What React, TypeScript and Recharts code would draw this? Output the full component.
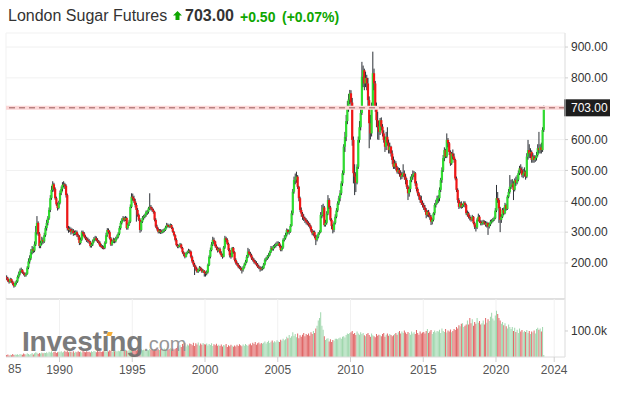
import { ComposedChart, Bar, XAxis, YAxis, CartesianGrid, ReferenceLine, Cell } from "recharts"

const FONT = "'Liberation Sans', Arial, sans-serif"
const UP = "#2fdc2f"
const DOWN = "#f01616"
const WICK = "#2c3036"
const VOL_UP = "#9fd7ad"
const VOL_DOWN = "#e06767"

// monthly candles, first one is May 1986, last one is Apr 2023
const START_YEAR = 1986
const START_MONTH = 4
const FIRST_OPEN = 155
const LAST_PRICE = 703

const closes = [
  150, 142, 138, 148, 140, 132, 125, 135,
  140, 155, 165, 175, 178, 170, 165, 160, 165, 185, 205, 215,
  235, 245, 240, 260, 300, 330, 295, 255, 265, 275, 270, 290,
  313, 330, 345, 372, 410, 437, 455, 440, 410, 390, 378, 395,
  427, 440, 453, 455, 450, 420, 313, 307, 310, 301, 305, 297,
  297, 300, 290, 285, 265, 275, 300, 295, 285, 280, 275, 272,
  269, 255, 260, 270, 278, 281, 275, 270, 265, 255, 253, 250,
  249, 265, 290, 307, 300, 280, 260, 270, 275, 270, 280, 285,
  295, 313, 330, 340, 346, 340, 346, 313, 325, 334, 382, 415,
  410, 400, 388, 372, 356, 340, 307, 334, 346, 350, 355, 366,
  366, 377, 382, 377, 372, 366, 340, 318, 310, 301, 305, 300,
  301, 305, 307, 315, 323, 320, 318, 323, 313, 301, 290, 275,
  258, 253, 255, 260, 249, 235, 228, 220, 231, 235, 240, 237,
  220, 205, 195, 188, 180, 172, 177, 185, 180, 172, 175, 168,
  166, 170, 194, 220, 242, 260, 275, 270, 255, 249, 240, 245,
  232, 225, 220, 250, 280, 275, 262, 242, 225, 220, 249, 235,
  210, 200, 195, 188, 185, 180, 177, 185, 195, 204, 220, 237,
  230, 225, 215, 210, 204, 200, 195, 188, 185, 183, 180, 183,
  195, 210, 215, 220, 225, 235, 248, 245, 253, 255, 260, 262,
  264, 255, 242, 250, 275, 280, 290, 307, 300, 301, 320, 361,
  431, 469, 470, 480, 447, 410, 372, 360, 350, 345, 340, 334,
  330, 325, 318, 305, 296, 300, 285, 275, 285, 295, 300, 356,
  356, 380, 323, 330, 360, 404, 380, 340, 320, 307, 330, 350,
  370, 393, 410, 426, 458, 491, 577, 609, 660, 707, 730, 750,
  720, 599, 491, 480, 460, 512, 599, 640, 686, 804, 825, 782,
  800, 782, 728, 653, 620, 707, 815, 782, 707, 663, 642, 625,
  663, 642, 620, 599, 577, 609, 590, 566, 577, 555, 534, 512,
  523, 510, 496, 501, 491, 480, 485, 491, 480, 469, 447, 426,
  440, 469, 480, 485, 491, 458, 440, 426, 415, 404, 395, 388,
  380, 372, 356, 366, 355, 350, 334, 340, 361, 388, 393, 410,
  410, 437, 469, 501, 540, 566, 545, 599, 588, 560, 523, 555,
  545, 534, 474, 437, 404, 382, 393, 382, 388, 395, 388, 361,
  361, 350, 345, 340, 350, 329, 318, 315, 340, 350, 334, 329,
  329, 334, 330, 323, 329, 318, 325, 334, 335, 340, 345, 370,
  410, 404, 377, 340, 350, 372, 361, 388, 375, 415, 430, 447,
  453, 458, 437, 469, 460, 470, 491, 507, 501, 485, 490, 496,
  480, 545, 566, 555, 560, 534, 545, 534, 540, 550, 572, 566,
  575, 566, 631, 703,
]

const highs = [
  160, 155, 146, 152, 150, 143, 135, 140,
  145, 160, 172, 182, 185, 180, 172, 168, 170, 190, 215, 225,
  245, 255, 252, 270, 320, 352, 335, 300, 272, 285, 282, 298,
  320, 340, 352, 380, 420, 450, 465, 460, 445, 415, 396, 402,
  435, 448, 462, 465, 460, 455, 425, 320, 318, 315, 312, 310,
  305, 306, 305, 295, 290, 282, 305, 305, 300, 290, 285, 282,
  278, 272, 265, 276, 284, 288, 286, 280, 274, 270, 262, 258,
  256, 270, 298, 313, 312, 305, 284, 276, 282, 280, 285, 292,
  300, 320, 336, 345, 352, 350, 352, 350, 328, 340, 390, 426,
  425, 418, 408, 395, 378, 360, 345, 338, 352, 356, 360, 370,
  372, 382, 426, 388, 382, 376, 368, 345, 324, 315, 310, 310,
  308, 310, 313, 320, 330, 328, 325, 328, 326, 317, 304, 293,
  280, 262, 260, 265, 263, 252, 238, 232, 236, 240, 246, 244,
  240, 224, 210, 200, 192, 185, 180, 190, 188, 183, 180, 177,
  172, 176, 198, 225, 250, 268, 285, 282, 272, 260, 252, 250,
  250, 238, 230, 255, 288, 285, 280, 266, 248, 232, 252, 252,
  238, 215, 205, 200, 193, 190, 185, 190, 200, 210, 226, 249,
  245, 236, 230, 220, 215, 210, 206, 200, 194, 190, 188, 190,
  200, 215, 220, 226, 232, 240, 255, 254, 258, 262, 266, 270,
  270, 268, 260, 256, 280, 290, 298, 312, 310, 308, 326, 370,
  440, 480, 490, 496, 485, 450, 415, 380, 365, 358, 350, 345,
  340, 335, 330, 322, 310, 305, 305, 290, 292, 300, 306, 365,
  388, 392, 385, 340, 368, 420, 410, 385, 345, 325, 335, 358,
  378, 400, 418, 436, 465, 500, 585, 625, 680, 725, 748, 761,
  760, 735, 610, 520, 495, 520, 610, 660, 700, 852, 840, 830,
  820, 810, 800, 740, 680, 720, 885, 830, 790, 720, 690, 660,
  670, 672, 650, 630, 610, 625, 640, 600, 590, 580, 565, 545,
  535, 530, 515, 510, 508, 500, 495, 520, 500, 488, 475, 452,
  448, 480, 488, 500, 498, 495, 465, 445, 430, 420, 418, 402,
  395, 388, 378, 370, 372, 362, 356, 345, 365, 394, 405, 418,
  420, 445, 476, 510, 550, 575, 570, 620, 605, 592, 565, 560,
  568, 555, 538, 480, 442, 410, 398, 400, 392, 400, 400, 392,
  370, 366, 356, 350, 356, 352, 334, 322, 345, 360, 355, 338,
  338, 340, 338, 336, 334, 332, 330, 340, 342, 346, 350, 378,
  453, 430, 410, 382, 358, 378, 380, 395, 392, 420, 440, 485,
  470, 472, 465, 474, 480, 485, 500, 515, 520, 512, 505, 510,
  500, 556, 599, 585, 572, 565, 556, 550, 548, 560, 585, 625,
  585, 590, 640, 710,
]

const lows = [
  145, 138, 133, 136, 136, 128, 120, 123,
  130, 136, 150, 160, 168, 165, 160, 155, 156, 162, 180, 198,
  210, 228, 232, 235, 255, 292, 288, 248, 248, 258, 262, 265,
  285, 305, 322, 340, 365, 405, 430, 432, 405, 385, 370, 374,
  390, 420, 432, 445, 440, 412, 305, 298, 300, 292, 295, 288,
  290, 290, 284, 275, 258, 260, 272, 288, 280, 274, 268, 265,
  262, 250, 250, 255, 266, 272, 270, 265, 260, 252, 248, 245,
  244, 245, 262, 285, 295, 276, 255, 256, 265, 264, 266, 276,
  280, 290, 308, 325, 335, 334, 336, 308, 308, 320, 330, 378,
  402, 394, 380, 334, 350, 336, 298, 302, 330, 340, 345, 350,
  356, 360, 372, 370, 366, 360, 335, 314, 305, 296, 296, 294,
  295, 297, 300, 304, 312, 316, 313, 315, 310, 298, 286, 270,
  254, 248, 248, 252, 245, 230, 222, 215, 218, 228, 232, 230,
  215, 200, 188, 161, 175, 168, 168, 173, 175, 168, 168, 156,
  156, 160, 166, 190, 215, 238, 255, 262, 250, 242, 234, 236,
  228, 220, 214, 218, 246, 268, 258, 238, 218, 214, 218, 230,
  205, 195, 190, 183, 180, 175, 166, 172, 182, 192, 200, 216,
  225, 220, 210, 205, 198, 195, 190, 184, 180, 172, 175, 176,
  180, 192, 205, 210, 215, 222, 232, 240, 240, 248, 250, 255,
  255, 250, 238, 238, 246, 270, 276, 286, 295, 292, 298, 318,
  355, 425, 455, 460, 440, 400, 365, 350, 340, 336, 330, 325,
  322, 318, 312, 300, 290, 288, 280, 258, 270, 280, 292, 298,
  345, 350, 318, 318, 325, 355, 375, 335, 310, 296, 300, 325,
  345, 365, 388, 400, 420, 450, 485, 560, 595, 650, 690, 715,
  700, 580, 458, 420, 430, 455, 505, 590, 630, 680, 770, 760,
  770, 760, 700, 572, 600, 610, 700, 760, 690, 640, 600, 599,
  615, 630, 610, 590, 560, 566, 580, 555, 555, 545, 520, 505,
  505, 500, 490, 488, 480, 470, 472, 478, 470, 455, 440, 404,
  415, 430, 462, 470, 478, 450, 432, 418, 405, 395, 388, 380,
  372, 365, 345, 350, 348, 340, 323, 325, 335, 355, 380, 390,
  395, 400, 430, 460, 495, 530, 540, 540, 575, 550, 515, 518,
  536, 525, 468, 430, 395, 375, 378, 376, 378, 382, 380, 355,
  350, 344, 338, 334, 336, 325, 310, 302, 310, 335, 330, 322,
  322, 324, 325, 318, 315, 291, 312, 320, 328, 332, 336, 342,
  365, 395, 330, 300, 330, 346, 355, 358, 370, 372, 410, 425,
  440, 445, 404, 432, 450, 455, 465, 485, 490, 478, 475, 480,
  470, 475, 535, 540, 540, 525, 525, 525, 528, 532, 545, 555,
  555, 555, 560, 625,
]

// volume in thousands
const volumes = [
  8, 10, 6, 9, 7, 12, 8, 10,
  9, 11, 8, 12, 10, 9, 13, 11, 10, 14, 12, 9,
  12, 15, 10, 14, 18, 16, 12, 15, 13, 17, 14, 16,
  15, 18, 14, 20, 17, 22, 16, 19, 21, 15, 18, 20,
  18, 22, 17, 20, 24, 19, 23, 18, 21, 20, 17, 22,
  16, 20, 18, 22, 19, 21, 17, 23, 20, 18, 22, 19,
  20, 17, 22, 19, 23, 21, 18, 24, 20, 22, 19, 21,
  22, 25, 20, 24, 21, 26, 23, 20, 25, 22, 24, 21,
  24, 22, 27, 23, 26, 24, 28, 25, 22, 27, 24, 26,
  26, 24, 29, 25, 28, 23, 27, 30, 26, 28, 25, 29,
  28, 26, 31, 27, 30, 25, 29, 32, 28, 30, 27, 31,
  30, 28, 33, 29, 32, 27, 31, 34, 30, 33, 29, 32,
  35, 40, 33, 45, 38, 50, 42, 55, 40, 48, 44, 52,
  50, 45, 55, 42, 53, 48, 56, 44, 52, 47, 54, 49,
  48, 52, 44, 50, 46, 53, 42, 49, 45, 51, 43, 47,
  42, 48, 40, 46, 44, 50, 38, 45, 41, 47, 43, 39,
  44, 40, 47, 42, 49, 45, 41, 48, 43, 50, 46, 42,
  48, 52, 45, 55, 50, 58, 47, 53, 56, 49, 54, 51,
  55, 60, 52, 58, 62, 54, 59, 63, 56, 61, 57, 64,
  60, 58, 66, 62, 70, 64, 68, 78, 72, 85, 74, 80,
  95, 82, 88, 76, 90, 72, 84, 78, 86, 92, 80, 88,
  85, 90, 82, 95, 88, 100, 92, 110, 120, 140, 150, 172,
  120, 105, 80, 65, 70, 72, 60, 68, 58, 65, 62, 70,
  70, 68, 72, 75, 70, 78, 80, 75, 85, 90, 88, 92,
  95, 100, 88, 92, 85, 98, 90, 86, 95, 88, 92, 84,
  80, 88, 92, 85, 78, 90, 84, 80, 76, 88, 82, 86,
  84, 80, 88, 92, 78, 86, 90, 82, 88, 85, 80, 84,
  88, 92, 86, 95, 100, 90, 98, 92, 102, 94, 88, 96,
  92, 86, 98, 90, 95, 88, 104, 92, 86, 98, 90, 94,
  96, 90, 100, 108, 92, 98, 104, 88, 96, 102, 94, 100,
  98, 105, 92, 110, 100, 96, 108, 94, 102, 98, 106, 95,
  100, 108, 104, 115, 110, 122, 118, 128, 130, 115, 120, 125,
  140, 125, 150, 130, 145, 120, 135, 128, 150, 132, 138, 125,
  130, 140, 125, 150, 132, 145, 138, 155, 170, 148, 140, 160,
  178, 165, 150, 140, 128, 135, 122, 130, 118, 110, 125, 115,
  108, 115, 100, 112, 96, 105, 92, 110, 98, 104, 95, 100,
  96, 104, 92, 100, 88, 98, 94, 102, 90, 108, 112, 105,
  110, 98, 115, 8,
]

const YEAR_TICKS = [1990, 1995, 2000, 2005, 2010, 2015, 2020, 2024]
const PRICE_TICKS = [200, 300, 400, 500, 600, 800, 900]
const VOLUME_TICKS = [100]
const X_DOMAIN = [1986.323, 2024.742]
const PRICE_DOMAIN = [83.3, 945.5]
const VOLUME_DOMAIN = [0, 223]

const data = closes.map((close, i) => {
  const m = START_MONTH + i
  const open = i === 0 ? FIRST_OPEN : closes[i - 1]
  return {
    t: START_YEAR + Math.floor(m / 12) + ((m % 12) + 0.5) / 12,
    open,
    close,
    high: highs[i],
    low: lows[i],
    volume: volumes[i],
    up: close >= open,
  }
})

function Candle(props: any) {
  const { x, y, width, height, payload } = props
  if (x == null || !payload) return null
  const top = Math.min(y, y + height)
  const h = Math.abs(height)
  const k = h / (payload.high - payload.low || 1)
  const yOpen = top + (payload.high - payload.open) * k
  const yClose = top + (payload.high - payload.close) * k
  const cx = x + width / 2
  return (
    <g>
      <line x1={cx} x2={cx} y1={top} y2={top + h} stroke={WICK} strokeWidth={1} />
      <rect
        x={cx - 1.1}
        y={Math.min(yOpen, yClose)}
        width={2.2}
        height={Math.max(Math.abs(yClose - yOpen), 1)}
        fill={payload.up ? UP : DOWN}
      />
    </g>
  )
}

function PriceTag(props: any) {
  const vb = props.viewBox
  if (!vb) return null
  const right = vb.x + vb.width
  return (
    <g>
      <rect x={right - 1} y={vb.y - 8.5} width={46} height={17} fill="#1e1e1e" />
      <text x={right + 6} y={vb.y + 4.5} fill="#fff" fontSize={12} fontFamily={FONT}>
        {LAST_PRICE.toFixed(2)}
      </text>
    </g>
  )
}

export default function App() {
  return (
    <div style={{ position: "absolute", left: 0, top: 0, width: 627, height: 393, background: "#fff", fontFamily: FONT }}>
      <div style={{ position: "absolute", left: 8, top: 6, fontSize: 16, color: "#333", lineHeight: "20px", whiteSpace: "nowrap" }}>
        London Sugar Futures
      </div>
      <svg style={{ position: "absolute", left: 173, top: 11 }} width={9} height={9}>
        <polygon points="4.5,0 9,4.5 6.5,4.5 6.5,9 2.5,9 2.5,4.5 0,4.5" fill="#0ea600" />
      </svg>
      <div style={{ position: "absolute", left: 185, top: 6, fontSize: 16, fontWeight: 700, color: "#333", lineHeight: "20px" }}>
        {LAST_PRICE.toFixed(2)}
      </div>
      <div style={{ position: "absolute", left: 240, top: 8, fontSize: 14, fontWeight: 700, color: "#0ea600", lineHeight: "18px" }}>
        +0.50
      </div>
      <div style={{ position: "absolute", left: 282, top: 8, fontSize: 14, fontWeight: 700, color: "#0ea600", lineHeight: "18px" }}>
        (+0.07%)
      </div>

      <div style={{ position: "absolute", left: 0, top: 0 }}>
        <ComposedChart width={627} height={300} data={data} margin={{ top: 33, right: 0, bottom: 0, left: 6 }}>
          <CartesianGrid stroke="#f1f1f1" />
          <XAxis
            type="number"
            dataKey="t"
            domain={X_DOMAIN}
            ticks={YEAR_TICKS}
            allowDataOverflow
            tick={false}
            tickLine={false}
            height={1}
            axisLine={{ stroke: "#c9c9c9" }}
          />
          <YAxis
            orientation="right"
            domain={PRICE_DOMAIN}
            ticks={PRICE_TICKS}
            allowDataOverflow
            width={62}
            tickSize={3}
            tickMargin={3}
            tickFormatter={(v: number) => v.toFixed(2)}
            tick={{ fill: "#333", fontSize: 12, fontFamily: FONT }}
            axisLine={{ stroke: "#e2e2e2" }}
            tickLine={{ stroke: "#cfcfcf" }}
          />
          <ReferenceLine y={LAST_PRICE} stroke="#fbd6d6" strokeWidth={4} />
          <ReferenceLine y={LAST_PRICE} stroke="#9a5b5b" strokeDasharray="6 4" label={<PriceTag />} />
          <Bar dataKey={(d: any) => [d.low, d.high]} barSize={1} shape={<Candle />} isAnimationActive={false} />
        </ComposedChart>
      </div>

      <div style={{ position: "absolute", left: 0, top: 299 }}>
        <ComposedChart width={627} height={88} data={data} margin={{ top: 0, right: 0, bottom: 0, left: 6 }}>
          <CartesianGrid stroke="#f1f1f1" horizontal={false} />
          <XAxis
            type="number"
            dataKey="t"
            domain={X_DOMAIN}
            ticks={YEAR_TICKS}
            allowDataOverflow
            height={30}
            tickSize={5}
            tickMargin={3}
            tick={{ fill: "#555", fontSize: 12, fontFamily: FONT }}
            axisLine={{ stroke: "#dcdcdc" }}
            tickLine={{ stroke: "#cfcfcf" }}
          />
          <YAxis
            orientation="right"
            domain={VOLUME_DOMAIN}
            ticks={VOLUME_TICKS}
            allowDataOverflow
            width={62}
            tickSize={3}
            tickMargin={3}
            tickFormatter={(v: number) => `${v.toFixed(1)}k`}
            tick={{ fill: "#333", fontSize: 12, fontFamily: FONT }}
            axisLine={{ stroke: "#e2e2e2" }}
            tickLine={{ stroke: "#cfcfcf" }}
          />
          <Bar dataKey="volume" barSize={1} isAnimationActive={false}>
            {data.map((d, i) => (
              <Cell key={`v-${i}`} fill={d.up ? VOL_UP : VOL_DOWN} />
            ))}
          </Bar>
        </ComposedChart>
      </div>

      <div style={{ position: "absolute", left: 8, top: 362, fontSize: 12, color: "#555", whiteSpace: "nowrap" }}>85</div>

      <div style={{ position: "absolute", left: 22, top: 326, pointerEvents: "none", whiteSpace: "nowrap", opacity: 0.9 }}>
        <span style={{ fontSize: 28, fontWeight: 700, color: "#6d6d6d", letterSpacing: -0.2 }}>Investing</span>
        <span style={{ fontSize: 20, color: "#8c8c8c" }}>.com</span>
        <div style={{ position: "absolute", left: 85, top: 6, width: 5, height: 4, background: "#f5a623", transform: "skewX(-20deg)" }} />
      </div>
    </div>
  )
}
